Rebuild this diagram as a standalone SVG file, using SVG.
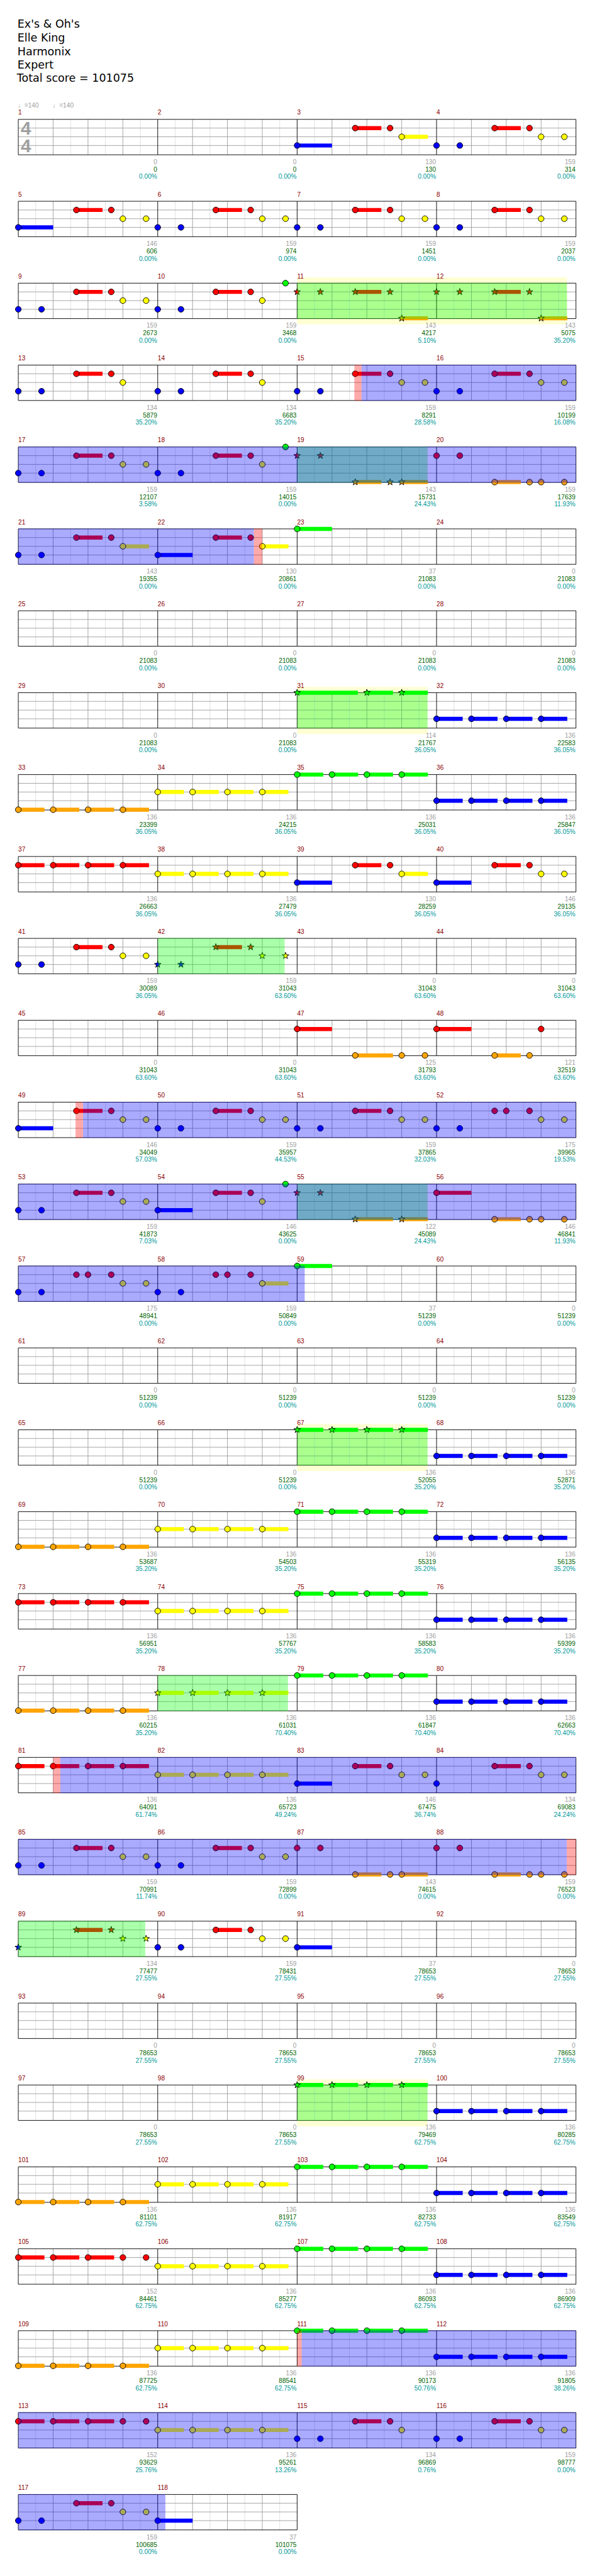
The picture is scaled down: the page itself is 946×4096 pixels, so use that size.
<svg xmlns="http://www.w3.org/2000/svg" width="946" height="4096" viewBox="0 0 946 4096">
<style>
text{font-family:"Liberation Sans","DejaVu Sans",Arial,sans-serif;font-size:11px}
.t text{font-family:"DejaVu Sans",sans-serif;font-size:19px;fill:#000}
.n{fill:#8b0000}
.a{fill:#a0a0a0;text-anchor:end}
.b{fill:#006400;text-anchor:end}
.c{fill:#009999;text-anchor:end}
.ts{font-weight:bold;font-size:32px;fill:#a0a0a0;text-anchor:middle}
.tp{fill:#a0a0a0}
circle{stroke:#000;stroke-width:1}
.R{fill:#f00;color:#f00}.Y{fill:#ff0;color:#ff0}.B{fill:#00f;color:#00f}.G{fill:#0f0;color:#0f0}.O{fill:#ffa500;color:#ffa500}
.sr,.sy,.sb,.sg,.so{stroke-width:7;fill:none}
.sr{stroke:#f00}.sy{stroke:#ff0}.sb{stroke:#00f}.sg{stroke:#0f0}.so{stroke:#ffa500}
.og{fill:#0f0;opacity:.333}.ob{fill:#00f;opacity:.333}.or{fill:#f00;opacity:.333}.yb{fill:#ff0;opacity:.17}
</style>
<defs>
<path id="st" d="M0-6L1.41-1.94L5.71-1.85L2.28.74L3.53 4.85L0 2.4L-3.53 4.85L-2.28.74L-5.71-1.85L-1.41-1.94Z" stroke="#000" stroke-width="1"/>
<g id="mg">
<path d="M30 0v61M90 0v61M150 0v61M210 0v61" stroke="#ddd"/>
<path d="M60 0v61M120 0v61M180 0v61M0 15h240M0 30h240M0 45h240" stroke="#a0a0a0"/>
<path d="M0 0v61M0 0h240M0 61h240" stroke="#000" fill="none"/>
</g>
<g id="g4"><use href="#mg" x="31.5"/><use href="#mg" x="271.5"/><use href="#mg" x="511.5"/><use href="#mg" x="751.5"/><path d="M991.5 0v61" stroke="#000"/></g>
<g id="q"><path d="M0 0h45M60 0h45M120 0h45M180 0h45" stroke="currentColor" stroke-width="7" fill="none"/><circle r="5"/><circle cx="60" r="5"/><circle cx="120" r="5"/><circle cx="180" r="5"/></g>
<g id="qs"><path d="M0 0h45M60 0h45M120 0h45M180 0h45" stroke="currentColor" stroke-width="7" fill="none"/><use href="#st"/><use href="#st" x="60"/><use href="#st" x="120"/><use href="#st" x="180"/></g>
<g id="pA"><path class="sr" d="M100 15h45"/><circle class="B" cy="45" r="5"/><circle class="B" cx="40" cy="45" r="5"/><circle class="R" cx="100" cy="15" r="5"/><circle class="R" cx="160" cy="15" r="5"/><circle class="Y" cx="180" cy="30" r="5"/><circle class="Y" cx="220" cy="30" r="5"/></g>
<g id="pB"><path class="sb" d="M0 45h60"/><path class="sr" d="M100 15h45"/><circle class="B" cy="45" r="5"/><circle class="R" cx="100" cy="15" r="5"/><circle class="R" cx="160" cy="15" r="5"/><circle class="Y" cx="180" cy="30" r="5"/><circle class="Y" cx="220" cy="30" r="5"/></g>
<g id="pC"><path class="sb" d="M0 45h60"/><path class="sr" d="M100 15h45"/><path class="sy" d="M180 30h45"/><circle class="B" cy="45" r="5"/><circle class="R" cx="100" cy="15" r="5"/><circle class="R" cx="160" cy="15" r="5"/><circle class="Y" cx="180" cy="30" r="5"/></g>
<g id="pD"><path class="sr" d="M100 15h45"/><circle class="B" cy="45" r="5"/><circle class="B" cx="40" cy="45" r="5"/><circle class="R" cx="100" cy="15" r="5"/><circle class="R" cx="160" cy="15" r="5"/><circle class="Y" cx="180" cy="30" r="5"/></g>
<g id="pG"><path class="sr" d="M100 15h45"/><circle class="B" cy="45" r="5"/><circle class="B" cx="40" cy="45" r="5"/><circle class="R" cx="100" cy="15" r="5"/><circle class="R" cx="160" cy="15" r="5"/><circle class="Y" cx="180" cy="30" r="5"/><circle class="G" cx="220" cy="0" r="5"/></g>
<g id="p7"><circle class="B" cy="45" r="5"/><circle class="B" cx="40" cy="45" r="5"/><circle class="R" cx="100" cy="15" r="5"/><circle class="R" cx="120" cy="15" r="5"/><circle class="R" cx="160" cy="15" r="5"/><circle class="Y" cx="180" cy="30" r="5"/><circle class="Y" cx="220" cy="30" r="5"/></g>
<g id="pS1"><path class="sr" d="M100 15h45"/><path class="so" d="M180 60.5h45"/><use href="#st" class="R" y="15"/><use href="#st" class="R" x="40" y="15"/><use href="#st" class="R" x="100" y="15"/><use href="#st" class="R" x="160" y="15"/><use href="#st" class="O" x="180" y="60.5"/></g>
<g id="pS2"><path class="so" d="M100 60.5h45M180 60.5h45"/><use href="#st" class="R" y="15"/><use href="#st" class="R" x="40" y="15"/><use href="#st" class="O" x="100" y="60.5"/><use href="#st" class="O" x="160" y="60.5"/><use href="#st" class="O" x="180" y="60.5"/></g>
<g id="pO"><path class="so" d="M100 60.5h45"/><circle class="R" cy="15" r="5"/><circle class="R" cx="40" cy="15" r="5"/><circle class="O" cx="100" cy="60.5" r="5"/><circle class="O" cx="160" cy="60.5" r="5"/><circle class="O" cx="180" cy="60.5" r="5"/><circle class="O" cx="220" cy="60.5" r="5"/></g>
<g id="pO2"><path class="so" d="M100 60.5h45M180 60.5h45"/><circle class="R" cy="15" r="5"/><circle class="R" cx="40" cy="15" r="5"/><circle class="O" cx="100" cy="60.5" r="5"/><circle class="O" cx="160" cy="60.5" r="5"/><circle class="O" cx="180" cy="60.5" r="5"/></g>
<g id="p5R"><path class="sr" d="M0 15h45M60 15h45M120 15h45"/><circle class="R" cy="15" r="5"/><circle class="R" cx="60" cy="15" r="5"/><circle class="R" cx="120" cy="15" r="5"/><circle class="R" cx="180" cy="15" r="5"/><circle class="R" cx="220" cy="15" r="5"/></g>
</defs>
<g transform="scale(0.9236)">
<rect x="0" y="0" width="1024" height="4435" fill="#fff"/>
<g id="title" class="t"><text x="30" y="48">Ex's &amp; Oh's</text><text x="30" y="71.5">Elle King</text><text x="30" y="95">Harmonix</text><text x="30" y="118">Expert</text><text x="29" y="141">Total score = 101075</text></g>

<g id="r0" transform="translate(0 205.5)">
<use href="#g4"/>
<text class="ts" x="44.5" y="26.5">4</text><text class="ts" x="44.5" y="56.5">4</text>
<text class="tp" x="31" y="-20">♩=140</text><text class="tp" x="91" y="-20">♩=140</text>
<g id="m1" transform="translate(31.5 0)"><text class="n" y="-8">1</text><text class="a" x="239" y="77">0</text><text class="b" x="239" y="90">0</text><text class="c" x="239" y="102.5">0.00%</text></g>
<g id="m2" transform="translate(271.5 0)"><text class="n" y="-8">2</text><text class="a" x="239" y="77">0</text><text class="b" x="239" y="90">0</text><text class="c" x="239" y="102.5">0.00%</text></g>
<g id="m3" transform="translate(511.5 0)"><use href="#pC"/><text class="n" y="-8">3</text><text class="a" x="239" y="77">130</text><text class="b" x="239" y="90">130</text><text class="c" x="239" y="102.5">0.00%</text></g>
<g id="m4" transform="translate(751.5 0)"><use href="#pA"/><text class="n" y="-8">4</text><text class="a" x="239" y="77">159</text><text class="b" x="239" y="90">314</text><text class="c" x="239" y="102.5">0.00%</text></g>
</g>

<g id="r1" transform="translate(0 346.5)">
<use href="#g4"/>
<g id="m5" transform="translate(31.5 0)"><use href="#pB"/><text class="n" y="-8">5</text><text class="a" x="239" y="77">146</text><text class="b" x="239" y="90">606</text><text class="c" x="239" y="102.5">0.00%</text></g>
<g id="m6" transform="translate(271.5 0)"><use href="#pA"/><text class="n" y="-8">6</text><text class="a" x="239" y="77">159</text><text class="b" x="239" y="90">974</text><text class="c" x="239" y="102.5">0.00%</text></g>
<g id="m7" transform="translate(511.5 0)"><use href="#pA"/><text class="n" y="-8">7</text><text class="a" x="239" y="77">159</text><text class="b" x="239" y="90">1451</text><text class="c" x="239" y="102.5">0.00%</text></g>
<g id="m8" transform="translate(751.5 0)"><use href="#pA"/><text class="n" y="-8">8</text><text class="a" x="239" y="77">159</text><text class="b" x="239" y="90">2037</text><text class="c" x="239" y="102.5">0.00%</text></g>
</g>

<g id="r2" transform="translate(0 487.5)">
<rect class="yb" x="511.5" y="-10" width="464.5" height="81"/>
<use href="#g4"/>
<g id="m9" transform="translate(31.5 0)"><use href="#pA"/><text class="n" y="-8">9</text><text class="a" x="239" y="77">159</text><text class="b" x="239" y="90">2673</text><text class="c" x="239" y="102.5">0.00%</text></g>
<g id="m10" transform="translate(271.5 0)"><use href="#pG"/><text class="n" y="-8">10</text><text class="a" x="239" y="77">159</text><text class="b" x="239" y="90">3468</text><text class="c" x="239" y="102.5">0.00%</text></g>
<g id="m11" transform="translate(511.5 0)"><use href="#pS1"/><text class="n" y="-8">11</text><text class="a" x="239" y="77">143</text><text class="b" x="239" y="90">4217</text><text class="c" x="239" y="102.5">5.10%</text></g>
<g id="m12" transform="translate(751.5 0)"><use href="#pS1"/><text class="n" y="-8">12</text><text class="a" x="239" y="77">143</text><text class="b" x="239" y="90">5075</text><text class="c" x="239" y="102.5">35.20%</text></g>
<rect class="og" x="511.5" y="-0.5" width="464.5" height="62"/>
</g>

<g id="r3" transform="translate(0 628.5)">
<use href="#g4"/>
<g id="m13" transform="translate(31.5 0)"><use href="#pD"/><text class="n" y="-8">13</text><text class="a" x="239" y="77">134</text><text class="b" x="239" y="90">5879</text><text class="c" x="239" y="102.5">35.20%</text></g>
<g id="m14" transform="translate(271.5 0)"><use href="#pD"/><text class="n" y="-8">14</text><text class="a" x="239" y="77">134</text><text class="b" x="239" y="90">6683</text><text class="c" x="239" y="102.5">35.20%</text></g>
<g id="m15" transform="translate(511.5 0)"><use href="#pA"/><text class="n" y="-8">15</text><text class="a" x="239" y="77">159</text><text class="b" x="239" y="90">8291</text><text class="c" x="239" y="102.5">28.58%</text></g>
<g id="m16" transform="translate(751.5 0)"><use href="#pA"/><text class="n" y="-8">16</text><text class="a" x="239" y="77">159</text><text class="b" x="239" y="90">10199</text><text class="c" x="239" y="102.5">16.08%</text></g>
<rect class="or" x="610" y="-0.5" width="12.5" height="62"/><rect class="ob" x="622.5" y="-0.5" width="369" height="62"/>
</g>

<g id="r4" transform="translate(0 769.5)">
<use href="#g4"/>
<g id="m17" transform="translate(31.5 0)"><use href="#pA"/><text class="n" y="-8">17</text><text class="a" x="239" y="77">159</text><text class="b" x="239" y="90">12107</text><text class="c" x="239" y="102.5">3.58%</text></g>
<g id="m18" transform="translate(271.5 0)"><use href="#pG"/><text class="n" y="-8">18</text><text class="a" x="239" y="77">159</text><text class="b" x="239" y="90">14015</text><text class="c" x="239" y="102.5">0.00%</text></g>
<g id="m19" transform="translate(511.5 0)"><use href="#pS2"/><text class="n" y="-8">19</text><text class="a" x="239" y="77">143</text><text class="b" x="239" y="90">15731</text><text class="c" x="239" y="102.5">24.43%</text></g>
<g id="m20" transform="translate(751.5 0)"><use href="#pO"/><text class="n" y="-8">20</text><text class="a" x="239" y="77">159</text><text class="b" x="239" y="90">17639</text><text class="c" x="239" y="102.5">11.93%</text></g>
<rect class="og" x="511.5" y="-0.5" width="224.5" height="62"/><rect class="ob" x="31.5" y="-0.5" width="960" height="62"/>
</g>

<g id="r5" transform="translate(0 910.5)">
<use href="#g4"/>
<g id="m21" transform="translate(31.5 0)"><path class="sr" d="M100 15h45"/><path class="sy" d="M180 30h45"/><circle class="B" cy="45" r="5"/><circle class="B" cx="40" cy="45" r="5"/><circle class="R" cx="100" cy="15" r="5"/><circle class="R" cx="160" cy="15" r="5"/><circle class="Y" cx="180" cy="30" r="5"/><text class="n" y="-8">21</text><text class="a" x="239" y="77">143</text><text class="b" x="239" y="90">19355</text><text class="c" x="239" y="102.5">0.00%</text></g>
<g id="m22" transform="translate(271.5 0)"><use href="#pC"/><text class="n" y="-8">22</text><text class="a" x="239" y="77">130</text><text class="b" x="239" y="90">20861</text><text class="c" x="239" y="102.5">0.00%</text></g>
<g id="m23" transform="translate(511.5 0)"><path class="sg" d="M0 0h60"/><circle class="G" r="5"/><text class="n" y="-8">23</text><text class="a" x="239" y="77">37</text><text class="b" x="239" y="90">21083</text><text class="c" x="239" y="102.5">0.00%</text></g>
<g id="m24" transform="translate(751.5 0)"><text class="n" y="-8">24</text><text class="a" x="239" y="77">0</text><text class="b" x="239" y="90">21083</text><text class="c" x="239" y="102.5">0.00%</text></g>
<rect class="ob" x="31.5" y="-0.5" width="405.5" height="62"/><rect class="or" x="437" y="-0.5" width="14.5" height="62"/>
</g>

<g id="r6" transform="translate(0 1051.5)">
<use href="#g4"/>
<g id="m25" transform="translate(31.5 0)"><text class="n" y="-8">25</text><text class="a" x="239" y="77">0</text><text class="b" x="239" y="90">21083</text><text class="c" x="239" y="102.5">0.00%</text></g>
<g id="m26" transform="translate(271.5 0)"><text class="n" y="-8">26</text><text class="a" x="239" y="77">0</text><text class="b" x="239" y="90">21083</text><text class="c" x="239" y="102.5">0.00%</text></g>
<g id="m27" transform="translate(511.5 0)"><text class="n" y="-8">27</text><text class="a" x="239" y="77">0</text><text class="b" x="239" y="90">21083</text><text class="c" x="239" y="102.5">0.00%</text></g>
<g id="m28" transform="translate(751.5 0)"><text class="n" y="-8">28</text><text class="a" x="239" y="77">0</text><text class="b" x="239" y="90">21083</text><text class="c" x="239" y="102.5">0.00%</text></g>
</g>

<g id="r7" transform="translate(0 1192.5)">
<rect class="yb" x="511.5" y="-10" width="224.5" height="81"/>
<use href="#g4"/>
<g id="m29" transform="translate(31.5 0)"><text class="n" y="-8">29</text><text class="a" x="239" y="77">0</text><text class="b" x="239" y="90">21083</text><text class="c" x="239" y="102.5">0.00%</text></g>
<g id="m30" transform="translate(271.5 0)"><text class="n" y="-8">30</text><text class="a" x="239" y="77">0</text><text class="b" x="239" y="90">21083</text><text class="c" x="239" y="102.5">0.00%</text></g>
<g id="m31" transform="translate(511.5 0)"><path class="sg" d="M0 0h104.5M120 0h45M180 0h45"/><use href="#st" class="G"/><use href="#st" class="G" x="120"/><use href="#st" class="G" x="180"/><text class="n" y="-8">31</text><text class="a" x="239" y="77">114</text><text class="b" x="239" y="90">21767</text><text class="c" x="239" y="102.5">36.05%</text></g>
<g id="m32" transform="translate(751.5 0)"><use href="#q" class="B" y="45"/><text class="n" y="-8">32</text><text class="a" x="239" y="77">136</text><text class="b" x="239" y="90">22583</text><text class="c" x="239" y="102.5">36.05%</text></g>
<rect class="og" x="511.5" y="-0.5" width="224.5" height="62"/>
</g>

<g id="r8" transform="translate(0 1333.5)">
<use href="#g4"/>
<g id="m33" transform="translate(31.5 0)"><use href="#q" class="O" y="60.5"/><text class="n" y="-8">33</text><text class="a" x="239" y="77">136</text><text class="b" x="239" y="90">23399</text><text class="c" x="239" y="102.5">36.05%</text></g>
<g id="m34" transform="translate(271.5 0)"><use href="#q" class="Y" y="30"/><text class="n" y="-8">34</text><text class="a" x="239" y="77">136</text><text class="b" x="239" y="90">24215</text><text class="c" x="239" y="102.5">36.05%</text></g>
<g id="m35" transform="translate(511.5 0)"><use href="#q" class="G"/><text class="n" y="-8">35</text><text class="a" x="239" y="77">136</text><text class="b" x="239" y="90">25031</text><text class="c" x="239" y="102.5">36.05%</text></g>
<g id="m36" transform="translate(751.5 0)"><use href="#q" class="B" y="45"/><text class="n" y="-8">36</text><text class="a" x="239" y="77">136</text><text class="b" x="239" y="90">25847</text><text class="c" x="239" y="102.5">36.05%</text></g>
</g>

<g id="r9" transform="translate(0 1474.5)">
<use href="#g4"/>
<g id="m37" transform="translate(31.5 0)"><use href="#q" class="R" y="15"/><text class="n" y="-8">37</text><text class="a" x="239" y="77">136</text><text class="b" x="239" y="90">26663</text><text class="c" x="239" y="102.5">36.05%</text></g>
<g id="m38" transform="translate(271.5 0)"><use href="#q" class="Y" y="30"/><text class="n" y="-8">38</text><text class="a" x="239" y="77">136</text><text class="b" x="239" y="90">27479</text><text class="c" x="239" y="102.5">36.05%</text></g>
<g id="m39" transform="translate(511.5 0)"><use href="#pC"/><text class="n" y="-8">39</text><text class="a" x="239" y="77">130</text><text class="b" x="239" y="90">28259</text><text class="c" x="239" y="102.5">36.05%</text></g>
<g id="m40" transform="translate(751.5 0)"><use href="#pB"/><text class="n" y="-8">40</text><text class="a" x="239" y="77">146</text><text class="b" x="239" y="90">29135</text><text class="c" x="239" y="102.5">36.05%</text></g>
</g>

<g id="r10" transform="translate(0 1615.5)">
<use href="#g4"/>
<g id="m41" transform="translate(31.5 0)"><use href="#pA"/><text class="n" y="-8">41</text><text class="a" x="239" y="77">159</text><text class="b" x="239" y="90">30089</text><text class="c" x="239" y="102.5">36.05%</text></g>
<g id="m42" transform="translate(271.5 0)"><path class="sr" d="M100 15h45"/><use href="#st" class="B" y="45"/><use href="#st" class="B" x="40" y="45"/><use href="#st" class="R" x="100" y="15"/><use href="#st" class="R" x="160" y="15"/><use href="#st" class="Y" x="180" y="30"/><use href="#st" class="Y" x="220" y="30"/><text class="n" y="-8">42</text><text class="a" x="239" y="77">159</text><text class="b" x="239" y="90">31043</text><text class="c" x="239" y="102.5">63.60%</text></g>
<g id="m43" transform="translate(511.5 0)"><text class="n" y="-8">43</text><text class="a" x="239" y="77">0</text><text class="b" x="239" y="90">31043</text><text class="c" x="239" y="102.5">63.60%</text></g>
<g id="m44" transform="translate(751.5 0)"><text class="n" y="-8">44</text><text class="a" x="239" y="77">0</text><text class="b" x="239" y="90">31043</text><text class="c" x="239" y="102.5">63.60%</text></g>
<rect class="og" x="271.5" y="-0.5" width="218.5" height="62"/>
</g>

<g id="r11" transform="translate(0 1756.5)">
<use href="#g4"/>
<g id="m45" transform="translate(31.5 0)"><text class="n" y="-8">45</text><text class="a" x="239" y="77">0</text><text class="b" x="239" y="90">31043</text><text class="c" x="239" y="102.5">63.60%</text></g>
<g id="m46" transform="translate(271.5 0)"><text class="n" y="-8">46</text><text class="a" x="239" y="77">0</text><text class="b" x="239" y="90">31043</text><text class="c" x="239" y="102.5">63.60%</text></g>
<g id="m47" transform="translate(511.5 0)"><path class="sr" d="M0 15h60"/><path class="so" d="M100 60.5h65"/><circle class="R" cy="15" r="5"/><circle class="O" cx="100" cy="60.5" r="5"/><circle class="O" cx="180" cy="60.5" r="5"/><circle class="O" cx="220" cy="60.5" r="5"/><text class="n" y="-8">47</text><text class="a" x="239" y="77">125</text><text class="b" x="239" y="90">31793</text><text class="c" x="239" y="102.5">63.60%</text></g>
<g id="m48" transform="translate(751.5 0)"><path class="sr" d="M0 15h60"/><path class="so" d="M100 60.5h45"/><circle class="R" cy="15" r="5"/><circle class="O" cx="100" cy="60.5" r="5"/><circle class="O" cx="160" cy="60.5" r="5"/><circle class="R" cx="180" cy="15" r="5"/><text class="n" y="-8">48</text><text class="a" x="239" y="77">121</text><text class="b" x="239" y="90">32519</text><text class="c" x="239" y="102.5">63.60%</text></g>
</g>

<g id="r12" transform="translate(0 1897.5)">
<use href="#g4"/>
<g id="m49" transform="translate(31.5 0)"><use href="#pB"/><text class="n" y="-8">49</text><text class="a" x="239" y="77">146</text><text class="b" x="239" y="90">34049</text><text class="c" x="239" y="102.5">57.03%</text></g>
<g id="m50" transform="translate(271.5 0)"><use href="#pA"/><text class="n" y="-8">50</text><text class="a" x="239" y="77">159</text><text class="b" x="239" y="90">35957</text><text class="c" x="239" y="102.5">44.53%</text></g>
<g id="m51" transform="translate(511.5 0)"><use href="#pA"/><text class="n" y="-8">51</text><text class="a" x="239" y="77">159</text><text class="b" x="239" y="90">37865</text><text class="c" x="239" y="102.5">32.03%</text></g>
<g id="m52" transform="translate(751.5 0)"><use href="#p7"/><text class="n" y="-8">52</text><text class="a" x="239" y="77">175</text><text class="b" x="239" y="90">39965</text><text class="c" x="239" y="102.5">19.53%</text></g>
<rect class="or" x="130" y="-0.5" width="13" height="62"/><rect class="ob" x="143" y="-0.5" width="848.5" height="62"/>
</g>

<g id="r13" transform="translate(0 2038.5)">
<use href="#g4"/>
<g id="m53" transform="translate(31.5 0)"><use href="#pA"/><text class="n" y="-8">53</text><text class="a" x="239" y="77">159</text><text class="b" x="239" y="90">41873</text><text class="c" x="239" y="102.5">7.03%</text></g>
<g id="m54" transform="translate(271.5 0)"><path class="sb" d="M0 45h60"/><path class="sr" d="M100 15h45"/><circle class="B" cy="45" r="5"/><circle class="R" cx="100" cy="15" r="5"/><circle class="R" cx="160" cy="15" r="5"/><circle class="Y" cx="180" cy="30" r="5"/><circle class="G" cx="220" cy="0" r="5"/><text class="n" y="-8">54</text><text class="a" x="239" y="77">146</text><text class="b" x="239" y="90">43625</text><text class="c" x="239" y="102.5">0.00%</text></g>
<g id="m55" transform="translate(511.5 0)"><path class="so" d="M100 60.5h65M180 60.5h45"/><use href="#st" class="R" y="15"/><use href="#st" class="R" x="40" y="15"/><use href="#st" class="O" x="100" y="60.5"/><use href="#st" class="O" x="180" y="60.5"/><text class="n" y="-8">55</text><text class="a" x="239" y="77">122</text><text class="b" x="239" y="90">45089</text><text class="c" x="239" y="102.5">24.43%</text></g>
<g id="m56" transform="translate(751.5 0)"><path class="sr" d="M0 15h60"/><path class="so" d="M100 60.5h45"/><circle class="R" cy="15" r="5"/><circle class="O" cx="100" cy="60.5" r="5"/><circle class="O" cx="160" cy="60.5" r="5"/><circle class="O" cx="180" cy="60.5" r="5"/><circle class="O" cx="220" cy="60.5" r="5"/><text class="n" y="-8">56</text><text class="a" x="239" y="77">146</text><text class="b" x="239" y="90">46841</text><text class="c" x="239" y="102.5">11.93%</text></g>
<rect class="og" x="511.5" y="-0.5" width="224.5" height="62"/><rect class="ob" x="31.5" y="-0.5" width="960" height="62"/>
</g>

<g id="r14" transform="translate(0 2179.5)">
<use href="#g4"/>
<g id="m57" transform="translate(31.5 0)"><use href="#p7"/><text class="n" y="-8">57</text><text class="a" x="239" y="77">175</text><text class="b" x="239" y="90">48941</text><text class="c" x="239" y="102.5">0.00%</text></g>
<g id="m58" transform="translate(271.5 0)"><path class="sy" d="M180 30h45"/><circle class="B" cy="45" r="5"/><circle class="B" cx="40" cy="45" r="5"/><circle class="R" cx="100" cy="15" r="5"/><circle class="R" cx="120" cy="15" r="5"/><circle class="R" cx="160" cy="15" r="5"/><circle class="Y" cx="180" cy="30" r="5"/><text class="n" y="-8">58</text><text class="a" x="239" y="77">159</text><text class="b" x="239" y="90">50849</text><text class="c" x="239" y="102.5">0.00%</text></g>
<g id="m59" transform="translate(511.5 0)"><path class="sg" d="M0 0h60"/><circle class="G" r="5"/><text class="n" y="-8">59</text><text class="a" x="239" y="77">37</text><text class="b" x="239" y="90">51239</text><text class="c" x="239" y="102.5">0.00%</text></g>
<g id="m60" transform="translate(751.5 0)"><text class="n" y="-8">60</text><text class="a" x="239" y="77">0</text><text class="b" x="239" y="90">51239</text><text class="c" x="239" y="102.5">0.00%</text></g>
<rect class="ob" x="31.5" y="-0.5" width="493" height="62"/>
</g>

<g id="r15" transform="translate(0 2320.5)">
<use href="#g4"/>
<g id="m61" transform="translate(31.5 0)"><text class="n" y="-8">61</text><text class="a" x="239" y="77">0</text><text class="b" x="239" y="90">51239</text><text class="c" x="239" y="102.5">0.00%</text></g>
<g id="m62" transform="translate(271.5 0)"><text class="n" y="-8">62</text><text class="a" x="239" y="77">0</text><text class="b" x="239" y="90">51239</text><text class="c" x="239" y="102.5">0.00%</text></g>
<g id="m63" transform="translate(511.5 0)"><text class="n" y="-8">63</text><text class="a" x="239" y="77">0</text><text class="b" x="239" y="90">51239</text><text class="c" x="239" y="102.5">0.00%</text></g>
<g id="m64" transform="translate(751.5 0)"><text class="n" y="-8">64</text><text class="a" x="239" y="77">0</text><text class="b" x="239" y="90">51239</text><text class="c" x="239" y="102.5">0.00%</text></g>
</g>

<g id="r16" transform="translate(0 2461.5)">
<rect class="yb" x="511.5" y="-10" width="224.5" height="81"/>
<use href="#g4"/>
<g id="m65" transform="translate(31.5 0)"><text class="n" y="-8">65</text><text class="a" x="239" y="77">0</text><text class="b" x="239" y="90">51239</text><text class="c" x="239" y="102.5">0.00%</text></g>
<g id="m66" transform="translate(271.5 0)"><text class="n" y="-8">66</text><text class="a" x="239" y="77">0</text><text class="b" x="239" y="90">51239</text><text class="c" x="239" y="102.5">0.00%</text></g>
<g id="m67" transform="translate(511.5 0)"><use href="#qs" class="G"/><text class="n" y="-8">67</text><text class="a" x="239" y="77">136</text><text class="b" x="239" y="90">52055</text><text class="c" x="239" y="102.5">35.20%</text></g>
<g id="m68" transform="translate(751.5 0)"><use href="#q" class="B" y="45"/><text class="n" y="-8">68</text><text class="a" x="239" y="77">136</text><text class="b" x="239" y="90">52871</text><text class="c" x="239" y="102.5">35.20%</text></g>
<rect class="og" x="511.5" y="-0.5" width="224.5" height="62"/>
</g>

<g id="r17" transform="translate(0 2602.5)">
<use href="#g4"/>
<g id="m69" transform="translate(31.5 0)"><use href="#q" class="O" y="60.5"/><text class="n" y="-8">69</text><text class="a" x="239" y="77">136</text><text class="b" x="239" y="90">53687</text><text class="c" x="239" y="102.5">35.20%</text></g>
<g id="m70" transform="translate(271.5 0)"><use href="#q" class="Y" y="30"/><text class="n" y="-8">70</text><text class="a" x="239" y="77">136</text><text class="b" x="239" y="90">54503</text><text class="c" x="239" y="102.5">35.20%</text></g>
<g id="m71" transform="translate(511.5 0)"><use href="#q" class="G"/><text class="n" y="-8">71</text><text class="a" x="239" y="77">136</text><text class="b" x="239" y="90">55319</text><text class="c" x="239" y="102.5">35.20%</text></g>
<g id="m72" transform="translate(751.5 0)"><use href="#q" class="B" y="45"/><text class="n" y="-8">72</text><text class="a" x="239" y="77">136</text><text class="b" x="239" y="90">56135</text><text class="c" x="239" y="102.5">35.20%</text></g>
</g>

<g id="r18" transform="translate(0 2743.5)">
<use href="#g4"/>
<g id="m73" transform="translate(31.5 0)"><use href="#q" class="R" y="15"/><text class="n" y="-8">73</text><text class="a" x="239" y="77">136</text><text class="b" x="239" y="90">56951</text><text class="c" x="239" y="102.5">35.20%</text></g>
<g id="m74" transform="translate(271.5 0)"><use href="#q" class="Y" y="30"/><text class="n" y="-8">74</text><text class="a" x="239" y="77">136</text><text class="b" x="239" y="90">57767</text><text class="c" x="239" y="102.5">35.20%</text></g>
<g id="m75" transform="translate(511.5 0)"><use href="#q" class="G"/><text class="n" y="-8">75</text><text class="a" x="239" y="77">136</text><text class="b" x="239" y="90">58583</text><text class="c" x="239" y="102.5">35.20%</text></g>
<g id="m76" transform="translate(751.5 0)"><use href="#q" class="B" y="45"/><text class="n" y="-8">76</text><text class="a" x="239" y="77">136</text><text class="b" x="239" y="90">59399</text><text class="c" x="239" y="102.5">35.20%</text></g>
</g>

<g id="r19" transform="translate(0 2884.5)">
<use href="#g4"/>
<g id="m77" transform="translate(31.5 0)"><use href="#q" class="O" y="60.5"/><text class="n" y="-8">77</text><text class="a" x="239" y="77">136</text><text class="b" x="239" y="90">60215</text><text class="c" x="239" y="102.5">35.20%</text></g>
<g id="m78" transform="translate(271.5 0)"><use href="#qs" class="Y" y="30"/><text class="n" y="-8">78</text><text class="a" x="239" y="77">136</text><text class="b" x="239" y="90">61031</text><text class="c" x="239" y="102.5">70.40%</text></g>
<g id="m79" transform="translate(511.5 0)"><use href="#q" class="G"/><text class="n" y="-8">79</text><text class="a" x="239" y="77">136</text><text class="b" x="239" y="90">61847</text><text class="c" x="239" y="102.5">70.40%</text></g>
<g id="m80" transform="translate(751.5 0)"><use href="#q" class="B" y="45"/><text class="n" y="-8">80</text><text class="a" x="239" y="77">136</text><text class="b" x="239" y="90">62663</text><text class="c" x="239" y="102.5">70.40%</text></g>
<rect class="og" x="271.5" y="-0.5" width="224.2" height="62"/>
</g>

<g id="r20" transform="translate(0 3025.5)">
<use href="#g4"/>
<g id="m81" transform="translate(31.5 0)"><use href="#q" class="R" y="15"/><text class="n" y="-8">81</text><text class="a" x="239" y="77">136</text><text class="b" x="239" y="90">64091</text><text class="c" x="239" y="102.5">61.74%</text></g>
<g id="m82" transform="translate(271.5 0)"><use href="#q" class="Y" y="30"/><text class="n" y="-8">82</text><text class="a" x="239" y="77">136</text><text class="b" x="239" y="90">65723</text><text class="c" x="239" y="102.5">49.24%</text></g>
<g id="m83" transform="translate(511.5 0)"><use href="#pB"/><text class="n" y="-8">83</text><text class="a" x="239" y="77">146</text><text class="b" x="239" y="90">67475</text><text class="c" x="239" y="102.5">36.74%</text></g>
<g id="m84" transform="translate(751.5 0)"><path class="sr" d="M100 15h45"/><circle class="B" cy="45" r="5"/><circle class="R" cx="100" cy="15" r="5"/><circle class="R" cx="160" cy="15" r="5"/><circle class="Y" cx="180" cy="30" r="5"/><circle class="Y" cx="220" cy="30" r="5"/><text class="n" y="-8">84</text><text class="a" x="239" y="77">134</text><text class="b" x="239" y="90">69083</text><text class="c" x="239" y="102.5">24.24%</text></g>
<rect class="or" x="91.5" y="-0.5" width="12.3" height="62"/><rect class="ob" x="103.8" y="-0.5" width="887.7" height="62"/>
</g>

<g id="r21" transform="translate(0 3166.5)">
<use href="#g4"/>
<g id="m85" transform="translate(31.5 0)"><use href="#pA"/><text class="n" y="-8">85</text><text class="a" x="239" y="77">159</text><text class="b" x="239" y="90">70991</text><text class="c" x="239" y="102.5">11.74%</text></g>
<g id="m86" transform="translate(271.5 0)"><use href="#pA"/><text class="n" y="-8">86</text><text class="a" x="239" y="77">159</text><text class="b" x="239" y="90">72899</text><text class="c" x="239" y="102.5">0.00%</text></g>
<g id="m87" transform="translate(511.5 0)"><use href="#pO2"/><text class="n" y="-8">87</text><text class="a" x="239" y="77">143</text><text class="b" x="239" y="90">74615</text><text class="c" x="239" y="102.5">0.00%</text></g>
<g id="m88" transform="translate(751.5 0)"><use href="#pO"/><text class="n" y="-8">88</text><text class="a" x="239" y="77">159</text><text class="b" x="239" y="90">76523</text><text class="c" x="239" y="102.5">0.00%</text></g>
<rect class="ob" x="31.5" y="-0.5" width="944.2" height="62"/><rect class="or" x="975.7" y="-0.5" width="15.8" height="62"/>
</g>

<g id="r22" transform="translate(0 3307.5)">
<use href="#g4"/>
<g id="m89" transform="translate(31.5 0)"><path class="sr" d="M100 15h45"/><use href="#st" class="B" y="45"/><use href="#st" class="R" x="100" y="15"/><use href="#st" class="R" x="160" y="15"/><use href="#st" class="Y" x="180" y="30"/><use href="#st" class="Y" x="220" y="30"/><text class="n" y="-8">89</text><text class="a" x="239" y="77">134</text><text class="b" x="239" y="90">77477</text><text class="c" x="239" y="102.5">27.55%</text></g>
<g id="m90" transform="translate(271.5 0)"><use href="#pA"/><text class="n" y="-8">90</text><text class="a" x="239" y="77">159</text><text class="b" x="239" y="90">78431</text><text class="c" x="239" y="102.5">27.55%</text></g>
<g id="m91" transform="translate(511.5 0)"><path class="sb" d="M0 45h60"/><circle class="B" cy="45" r="5"/><text class="n" y="-8">91</text><text class="a" x="239" y="77">37</text><text class="b" x="239" y="90">78653</text><text class="c" x="239" y="102.5">27.55%</text></g>
<g id="m92" transform="translate(751.5 0)"><text class="n" y="-8">92</text><text class="a" x="239" y="77">0</text><text class="b" x="239" y="90">78653</text><text class="c" x="239" y="102.5">27.55%</text></g>
<rect class="og" x="31.5" y="-0.5" width="218.5" height="62"/>
</g>

<g id="r23" transform="translate(0 3448.5)">
<use href="#g4"/>
<g id="m93" transform="translate(31.5 0)"><text class="n" y="-8">93</text><text class="a" x="239" y="77">0</text><text class="b" x="239" y="90">78653</text><text class="c" x="239" y="102.5">27.55%</text></g>
<g id="m94" transform="translate(271.5 0)"><text class="n" y="-8">94</text><text class="a" x="239" y="77">0</text><text class="b" x="239" y="90">78653</text><text class="c" x="239" y="102.5">27.55%</text></g>
<g id="m95" transform="translate(511.5 0)"><text class="n" y="-8">95</text><text class="a" x="239" y="77">0</text><text class="b" x="239" y="90">78653</text><text class="c" x="239" y="102.5">27.55%</text></g>
<g id="m96" transform="translate(751.5 0)"><text class="n" y="-8">96</text><text class="a" x="239" y="77">0</text><text class="b" x="239" y="90">78653</text><text class="c" x="239" y="102.5">27.55%</text></g>
</g>

<g id="r24" transform="translate(0 3589.5)">
<rect class="yb" x="511.5" y="-10" width="224.5" height="81"/>
<use href="#g4"/>
<g id="m97" transform="translate(31.5 0)"><text class="n" y="-8">97</text><text class="a" x="239" y="77">0</text><text class="b" x="239" y="90">78653</text><text class="c" x="239" y="102.5">27.55%</text></g>
<g id="m98" transform="translate(271.5 0)"><text class="n" y="-8">98</text><text class="a" x="239" y="77">0</text><text class="b" x="239" y="90">78653</text><text class="c" x="239" y="102.5">27.55%</text></g>
<g id="m99" transform="translate(511.5 0)"><use href="#qs" class="G"/><text class="n" y="-8">99</text><text class="a" x="239" y="77">136</text><text class="b" x="239" y="90">79469</text><text class="c" x="239" y="102.5">62.75%</text></g>
<g id="m100" transform="translate(751.5 0)"><use href="#q" class="B" y="45"/><text class="n" y="-8">100</text><text class="a" x="239" y="77">136</text><text class="b" x="239" y="90">80285</text><text class="c" x="239" y="102.5">62.75%</text></g>
<rect class="og" x="511.5" y="-0.5" width="224.5" height="62"/>
</g>

<g id="r25" transform="translate(0 3730.5)">
<use href="#g4"/>
<g id="m101" transform="translate(31.5 0)"><use href="#q" class="O" y="60.5"/><text class="n" y="-8">101</text><text class="a" x="239" y="77">136</text><text class="b" x="239" y="90">81101</text><text class="c" x="239" y="102.5">62.75%</text></g>
<g id="m102" transform="translate(271.5 0)"><use href="#q" class="Y" y="30"/><text class="n" y="-8">102</text><text class="a" x="239" y="77">136</text><text class="b" x="239" y="90">81917</text><text class="c" x="239" y="102.5">62.75%</text></g>
<g id="m103" transform="translate(511.5 0)"><use href="#q" class="G"/><text class="n" y="-8">103</text><text class="a" x="239" y="77">136</text><text class="b" x="239" y="90">82733</text><text class="c" x="239" y="102.5">62.75%</text></g>
<g id="m104" transform="translate(751.5 0)"><use href="#q" class="B" y="45"/><text class="n" y="-8">104</text><text class="a" x="239" y="77">136</text><text class="b" x="239" y="90">83549</text><text class="c" x="239" y="102.5">62.75%</text></g>
</g>

<g id="r26" transform="translate(0 3871.5)">
<use href="#g4"/>
<g id="m105" transform="translate(31.5 0)"><use href="#p5R"/><text class="n" y="-8">105</text><text class="a" x="239" y="77">152</text><text class="b" x="239" y="90">84461</text><text class="c" x="239" y="102.5">62.75%</text></g>
<g id="m106" transform="translate(271.5 0)"><use href="#q" class="Y" y="30"/><text class="n" y="-8">106</text><text class="a" x="239" y="77">136</text><text class="b" x="239" y="90">85277</text><text class="c" x="239" y="102.5">62.75%</text></g>
<g id="m107" transform="translate(511.5 0)"><use href="#q" class="G"/><text class="n" y="-8">107</text><text class="a" x="239" y="77">136</text><text class="b" x="239" y="90">86093</text><text class="c" x="239" y="102.5">62.75%</text></g>
<g id="m108" transform="translate(751.5 0)"><use href="#q" class="B" y="45"/><text class="n" y="-8">108</text><text class="a" x="239" y="77">136</text><text class="b" x="239" y="90">86909</text><text class="c" x="239" y="102.5">62.75%</text></g>
</g>

<g id="r27" transform="translate(0 4012.5)">
<use href="#g4"/>
<g id="m109" transform="translate(31.5 0)"><use href="#q" class="O" y="60.5"/><text class="n" y="-8">109</text><text class="a" x="239" y="77">136</text><text class="b" x="239" y="90">87725</text><text class="c" x="239" y="102.5">62.75%</text></g>
<g id="m110" transform="translate(271.5 0)"><use href="#q" class="Y" y="30"/><text class="n" y="-8">110</text><text class="a" x="239" y="77">136</text><text class="b" x="239" y="90">88541</text><text class="c" x="239" y="102.5">62.75%</text></g>
<g id="m111" transform="translate(511.5 0)"><use href="#q" class="G"/><text class="n" y="-8">111</text><text class="a" x="239" y="77">136</text><text class="b" x="239" y="90">90173</text><text class="c" x="239" y="102.5">50.76%</text></g>
<g id="m112" transform="translate(751.5 0)"><use href="#q" class="B" y="45"/><text class="n" y="-8">112</text><text class="a" x="239" y="77">136</text><text class="b" x="239" y="90">91805</text><text class="c" x="239" y="102.5">38.26%</text></g>
<rect class="or" x="511.5" y="-0.5" width="8" height="62"/><rect class="ob" x="519.5" y="-0.5" width="472" height="62"/>
</g>

<g id="r28" transform="translate(0 4153.5)">
<use href="#g4"/>
<g id="m113" transform="translate(31.5 0)"><use href="#p5R"/><text class="n" y="-8">113</text><text class="a" x="239" y="77">152</text><text class="b" x="239" y="90">93629</text><text class="c" x="239" y="102.5">25.76%</text></g>
<g id="m114" transform="translate(271.5 0)"><use href="#q" class="Y" y="30"/><text class="n" y="-8">114</text><text class="a" x="239" y="77">136</text><text class="b" x="239" y="90">95261</text><text class="c" x="239" y="102.5">13.26%</text></g>
<g id="m115" transform="translate(511.5 0)"><use href="#pD"/><text class="n" y="-8">115</text><text class="a" x="239" y="77">134</text><text class="b" x="239" y="90">96869</text><text class="c" x="239" y="102.5">0.76%</text></g>
<g id="m116" transform="translate(751.5 0)"><use href="#pA"/><text class="n" y="-8">116</text><text class="a" x="239" y="77">159</text><text class="b" x="239" y="90">98777</text><text class="c" x="239" y="102.5">0.00%</text></g>
<rect class="ob" x="31.5" y="-0.5" width="960" height="62"/>
</g>

<g id="r29" transform="translate(0 4294.5)">
<use href="#mg" x="31.5"/><use href="#mg" x="271.5"/><path d="M511.5 0v61" stroke="#000"/>
<g id="m117" transform="translate(31.5 0)"><use href="#pA"/><text class="n" y="-8">117</text><text class="a" x="239" y="77">159</text><text class="b" x="239" y="90">100685</text><text class="c" x="239" y="102.5">0.00%</text></g>
<g id="m118" transform="translate(271.5 0)"><path class="sb" d="M0 45h60"/><circle class="B" cy="45" r="5"/><text class="n" y="-8">118</text><text class="a" x="239" y="77">37</text><text class="b" x="239" y="90">101075</text><text class="c" x="239" y="102.5">0.00%</text></g>
<rect class="ob" x="31.5" y="-0.5" width="253.2" height="62"/>
</g>
</g>
</svg>
